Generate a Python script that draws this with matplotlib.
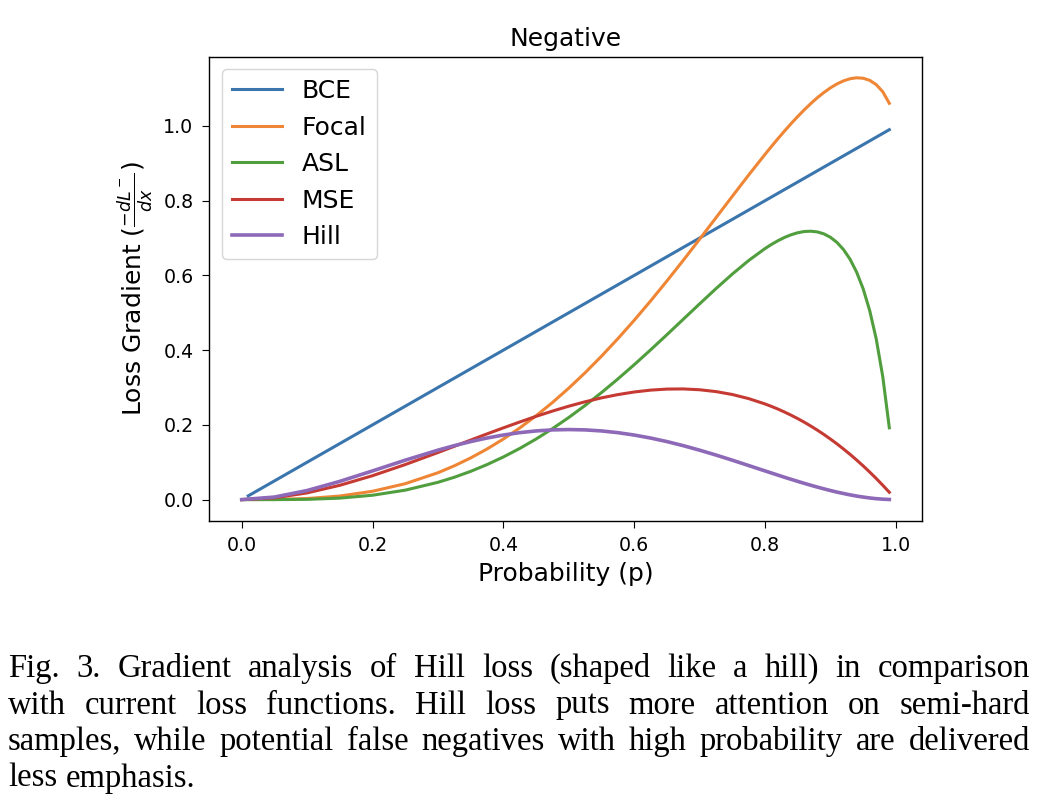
import matplotlib
matplotlib.use("Agg")
import matplotlib.pyplot as plt

p = [0.0, 0.05, 0.10, 0.15, 0.20, 0.25, 0.30, 0.325, 0.35, 0.375, 0.40,
     0.425, 0.45, 0.475, 0.50, 0.525, 0.55, 0.575, 0.60, 0.625, 0.65,
     0.675, 0.70, 0.725, 0.75, 0.775, 0.80, 0.81, 0.82, 0.83, 0.84, 0.85,
     0.86, 0.87, 0.88, 0.89, 0.90, 0.91, 0.92, 0.93, 0.94, 0.95, 0.96,
     0.97, 0.98, 0.99]

bce_p = [0.01, 0.99]
bce = [0.01, 0.99]

focal = [0.0, 0.0004, 0.0029, 0.0096, 0.0223, 0.0426, 0.0719, 0.0904, 0.1115,
         0.1354, 0.1621, 0.1917, 0.2243, 0.2598, 0.2983, 0.3396, 0.3838,
         0.4306, 0.4799, 0.5315, 0.5851, 0.6404, 0.6970, 0.7543, 0.8118,
         0.8687, 0.9240, 0.9455, 0.9665, 0.9868, 1.0065, 1.0253, 1.0432,
         1.0600, 1.0756, 1.0896, 1.1020, 1.1125, 1.1207, 1.1264, 1.1289,
         1.1277, 1.1221, 1.1106, 1.0915, 1.0606]

asl = [0.0, 0.0, 0.0007, 0.0040, 0.0117, 0.0253, 0.0463, 0.0598, 0.0756,
       0.0937, 0.1141, 0.1369, 0.1621, 0.1898, 0.2198, 0.2520, 0.2864,
       0.3228, 0.3610, 0.4006, 0.4413, 0.4826, 0.5239, 0.5646, 0.6036,
       0.6399, 0.6719, 0.6831, 0.6931, 0.7018, 0.7089, 0.7142, 0.7175,
       0.7183, 0.7164, 0.7112, 0.7020, 0.6883, 0.6691, 0.6432, 0.6089,
       0.5642, 0.5060, 0.4298, 0.3289, 0.1922]

mse = [0.0, 0.0048, 0.0180, 0.0383, 0.0640, 0.0938, 0.1260, 0.1426, 0.1593,
       0.1758, 0.1920, 0.2077, 0.2228, 0.2369, 0.2500, 0.2618, 0.2723,
       0.2810, 0.2880, 0.2930, 0.2958, 0.2962, 0.2940, 0.2891, 0.2813,
       0.2703, 0.2560, 0.2493, 0.2421, 0.2342, 0.2258, 0.2168, 0.2071,
       0.1968, 0.1859, 0.1743, 0.1620, 0.1491, 0.1354, 0.1211, 0.1060,
       0.0903, 0.0737, 0.0565, 0.0384, 0.0196]

hill = [0.0, 0.0068, 0.0243, 0.0488, 0.0768, 0.1055, 0.1323, 0.1444, 0.1553,
        0.1648, 0.1728, 0.1792, 0.1838, 0.1866, 0.1875, 0.1866, 0.1838,
        0.1792, 0.1728, 0.1648, 0.1553, 0.1444, 0.1323, 0.1193, 0.1055,
        0.0912, 0.0768, 0.0711, 0.0654, 0.0597, 0.0542, 0.0488, 0.0435,
        0.0384, 0.0335, 0.0288, 0.0243, 0.0201, 0.0163, 0.0127, 0.0095,
        0.0068, 0.0044, 0.0025, 0.0012, 0.0003]

ticks = [0.0, 0.2, 0.4, 0.6, 0.8, 1.0]

caption_lines = [
    "Fig. 3.  Gradient analysis of Hill loss (shaped like a hill) in comparison",
    "with current loss functions. Hill loss puts more attention on semi-hard",
    "samples, while potential false negatives with high probability are delivered",
    "less emphasis.",
]

W, H = 1046, 798
fig = plt.figure(figsize=(W / 100, H / 100), dpi=100)
ax = fig.add_axes([209.3 / W, 1 - 520.7 / H, 712.4 / W, 464.0 / H])

lw = 2.2
ax.plot(bce_p, bce, color="#3a75ae", lw=lw, label="BCE")
ax.plot(p, focal, color="#ef8636", lw=lw, label="Focal")
ax.plot(p, asl, color="#519e3e", lw=lw, label="ASL")
ax.plot(p, mse, color="#c53a32", lw=lw, label="MSE")
ax.plot(p, hill, color="#8d69b8", lw=lw + 0.4, label="Hill")

ax.set_xticks(ticks)
ax.set_yticks(ticks)
ax.tick_params(labelsize=13.7, length=5, width=0.8, pad=6.3)
for s in ax.spines.values():
    s.set_linewidth(1.0)

ax.set_title("Negative", fontsize=18, pad=8)
ax.set_xlabel("Probability (p)", fontsize=18, labelpad=5)
ax.set_ylabel(r"Loss Gradient ($\frac{-dL^-}{dx}$)", fontsize=18, labelpad=6)
ax.legend(loc="upper left", fontsize=18)

# justified caption below the chart
renderer = fig.canvas.get_renderer()
left, right = 8 / W, 1030 / W
baselines = [676.7, 713.5, 750.0, 786.5]
csize = 23.5
for i, line in enumerate(caption_lines):
    y = 1 - baselines[i] / H
    words = line.split()
    texts = [fig.text(0, y, w, fontsize=csize, family="Liberation Serif",
                      va="baseline", ha="left") for w in words]
    widths = [t.get_window_extent(renderer).width / W for t in texts]
    if i == len(caption_lines) - 1:
        gap = 0.25 * csize * 100 / 72 / W
    else:
        gap = (right - left - sum(widths)) / (len(words) - 1)
    x = left
    for t, wd in zip(texts, widths):
        t.set_x(x)
        x += wd + gap

fig.savefig("out.png", dpi=100)
